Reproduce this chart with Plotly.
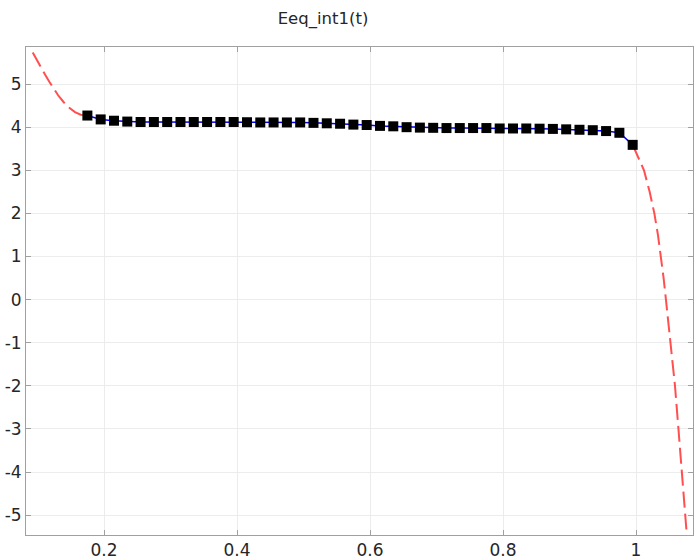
import plotly.graph_objects as go

# Data
t_pts = [0.175, 0.195, 0.215, 0.235, 0.255, 0.275, 0.295, 0.315, 0.335, 0.355,
         0.375, 0.395, 0.415, 0.435, 0.455, 0.475, 0.495, 0.515, 0.535, 0.555,
         0.575, 0.595, 0.615, 0.635, 0.655, 0.675, 0.695, 0.715, 0.735, 0.755,
         0.775, 0.795, 0.815, 0.835, 0.855, 0.875, 0.895, 0.915, 0.935, 0.955,
         0.975, 0.995]
e_pts = [4.27, 4.18, 4.15, 4.13, 4.12, 4.12, 4.12, 4.12, 4.12, 4.12,
         4.12, 4.12, 4.115, 4.11, 4.11, 4.11, 4.11, 4.10, 4.09, 4.08,
         4.06, 4.05, 4.03, 4.02, 4.00, 3.99, 3.985, 3.98, 3.98, 3.98,
         3.98, 3.97, 3.97, 3.97, 3.965, 3.96, 3.95, 3.94, 3.93, 3.91,
         3.87, 3.59]

t_left = [0.0928, 0.100, 0.107, 0.1113, 0.118, 0.1238, 0.131, 0.1388, 0.147, 0.1564, 0.165, 0.175]
e_left = [5.73, 5.52, 5.33, 5.22, 5.05, 4.90, 4.74, 4.59, 4.46, 4.35, 4.29, 4.27]

t_right = [0.995, 1.0035, 1.012, 1.0205, 1.0276, 1.033, 1.0378, 1.0415, 1.0450,
           1.0521, 1.0586, 1.0638, 1.0688, 1.0737, 1.0762]
e_right = [3.59, 3.3, 3.0, 2.5, 2.0, 1.5, 1.0, 0.5, 0.0,
           -1.0, -2.0, -3.0, -4.0, -5.0, -5.42]

x_ticks = [0.2, 0.4, 0.6, 0.8, 1.0]
x_labels = ["0.2", "0.4", "0.6", "0.8", "1"]
y_ticks = [-5, -4, -3, -2, -1, 0, 1, 2, 3, 4, 5]
y_labels = ["-5", "-4", "-3", "-2", "-1", "0", "1", "2", "3", "4", "5"]

red = "rgba(255,60,60,0.9)"
fig = go.Figure()
for tx, ey in ((t_left, e_left), (t_right, e_right)):
    fig.add_trace(go.Scatter(x=tx, y=ey, mode="lines",
                             line=dict(color=red, width=2, dash="16px,6px"),
                             showlegend=False))
fig.add_trace(go.Scatter(x=t_pts, y=e_pts, mode="lines+markers",
                         line=dict(color="#0000ff", width=1.5),
                         marker=dict(symbol="square", size=10, color="black"),
                         showlegend=False))

axis_common = dict(showline=True, linecolor="#a0a0a0", linewidth=1, mirror="ticks",
                   ticks="inside", ticklen=5, tickcolor="#a0a0a0",
                   showgrid=True, gridcolor="#ececec", gridwidth=1, zeroline=False,
                   automargin=False,
                   tickfont=dict(family="DejaVu Sans", size=17, color="#262626"))
fig.update_xaxes(range=[0.0827, 1.0857], tickvals=x_ticks, ticktext=x_labels, **axis_common)
fig.update_yaxes(range=[-5.46, 5.86], tickvals=y_ticks, ticktext=y_labels, **axis_common)

fig.update_layout(
    width=700, height=560,
    margin=dict(l=26, r=7, t=47, b=25),
    paper_bgcolor="white", plot_bgcolor="white",
    title=dict(text="Eeq_int1(t)", x=323/700, xref="container", xanchor="center",
               y=1 - 18/560, yref="container", yanchor="middle",
               font=dict(family="DejaVu Sans", size=16.5, color="#262626")),
)
fig.write_html("out.html")
